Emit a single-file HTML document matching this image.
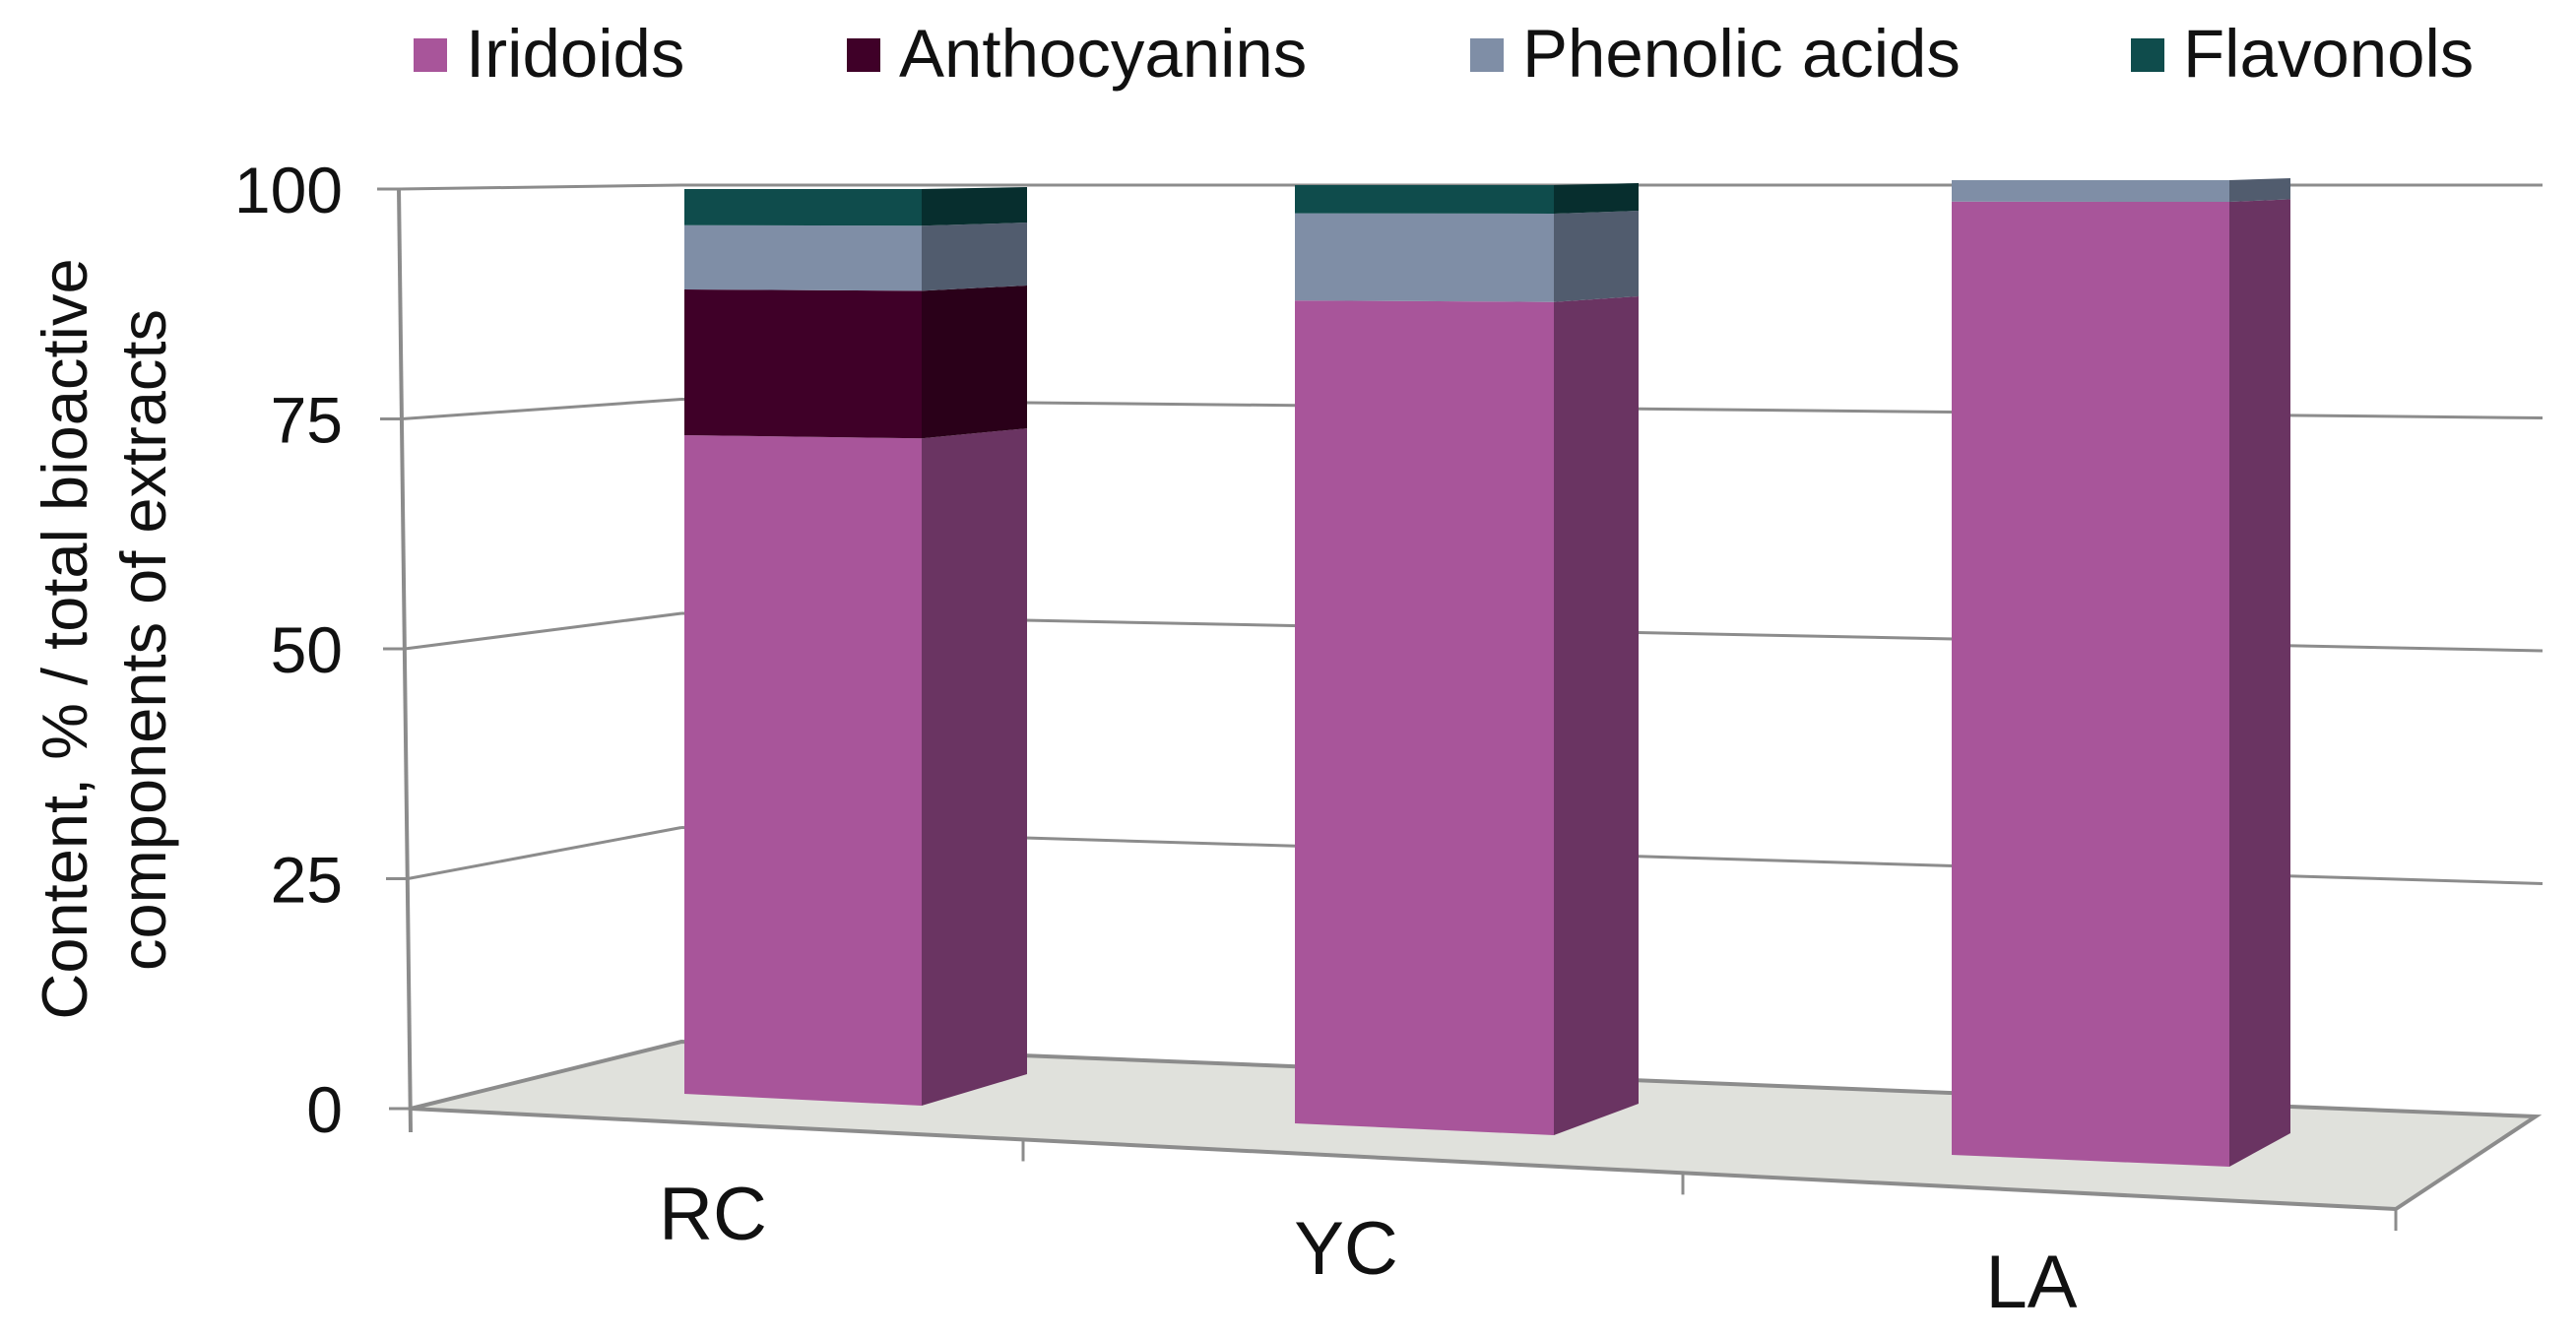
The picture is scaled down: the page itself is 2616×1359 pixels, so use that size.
<!DOCTYPE html>
<html><head><meta charset="utf-8"><style>
html,body{margin:0;padding:0;background:#fff;}
svg{display:block;font-family:"Liberation Sans",Arial,sans-serif;}
</style></head><body>
<svg id="chart" width="2616" height="1359" viewBox="0 0 2616 1359" xmlns="http://www.w3.org/2000/svg">
<g id="legend"></g>
<g id="walls"></g>
<g id="bars"></g>
<g id="axes"></g>
<g font-size="65" fill="#111">
<text transform="translate(88,649) rotate(-90)" text-anchor="middle">Content, % / total bioactive</text>
<text transform="translate(168,650) rotate(-90)" text-anchor="middle">components  of extracts</text>
</g>
</svg>
<script>
const categories = ["RC", "YC", "LA"];
const seriesNames = ["Iridoids", "Anthocyanins", "Phenolic acids", "Flavonols"];
const iridoids = [72.8, 87.7, 97.8];
const anthocyanins = [16.1, 0, 0];
const phenolicAcids = [7.1, 9.3, 2.2];
const flavonols = [4.0, 3.0, 0];
const yTicks = [0, 25, 50, 75, 100];

const series = [iridoids, anthocyanins, phenolicAcids, flavonols];
const frontColors = ["#a8559a", "#3f0028", "#7f8ea6", "#0f4c4c"];
const sideColors = ["#6a3462", "#2a0019", "#515c6e", "#072e2e"];
// perspective layout per bar slot (pixel geometry, not data)
const slots = [
  {xL:695, xR:936, xS:1043, bL:1111, bR:1123, bS:1091, top:192, lx:724, ly:1259},
  {xL:1315, xR:1578, xS:1664, bL:1141, bR:1153, bS:1121, top:188, lx:1367, ly:1294},
  {xL:1982, xR:2264, xS:2326, bL:1173, bR:1185, bS:1151, top:183, lx:2063, ly:1328}
];
const NS = "http://www.w3.org/2000/svg";
function mk(tag, attrs, parent){
  const e = document.createElementNS(NS, tag);
  for (const k in attrs) e.setAttribute(k, attrs[k]);
  parent.appendChild(e); return e;
}
function yAt(b, y0, v){ return y0 - v/100*(y0 - b); }

// legend
const legend = document.getElementById('legend');
const legX = [420, 860, 1493, 2164];
seriesNames.forEach((n,i)=>{
  const g = mk('g', {}, legend);
  
  
  const r = mk('rect', {x:legX[i], y:39, width:34, height:34, fill:frontColors[i]}, g);
  
  
  const t = mk('text', {x:legX[i]+53, y:78, 'font-size':69, fill:'#111'}, g);
  
  
  t.textContent = n;
});

// walls & gridlines
const walls = document.getElementById('walls');
const grid = '#8c8c8c';
const floor = mk('polygon', {points:'417,1126 2433,1228 2575,1134 692,1058', fill:'#e0e1dc', stroke:grid, 'stroke-width':4}, walls);


function frontX(v){ return 417 - 12*v/100; }
function frontY(v){ return 1126 - v*9.34; }
function backLY(v){ return 1058 - v*8.7; }
function backRY(v){ return 1134 - v*9.46; }
yTicks.forEach(v=>{
  const l1 = mk('line', {x1:frontX(v), y1:frontY(v), x2:692, y2:backLY(v), stroke:grid, 'stroke-width':3}, walls);
  
  
  if (v > 0) {
    const l2 = mk('line', {x1:692, y1:backLY(v), x2:2582, y2:backRY(v), stroke:grid, 'stroke-width':3}, walls);
    
    
  }
});

// bars
const barsG = document.getElementById('bars');
categories.forEach((c,ci)=>{
  const s = slots[ci];
  const g = mk('g', {}, barsG);
  
  
  let cum = 0;
  series.forEach((arr,si)=>{
    const v = arr[ci];
    if (v <= 0) return;
    const a = cum, b = cum + v; cum = b;
    const y1L = yAt(s.top, s.bL, a), y2L = yAt(s.top, s.bL, b);
    const y1R = yAt(s.top, s.bR, a), y2R = yAt(s.top, s.bR, b);
    const y1S = yAt(s.top-2, s.bS, a), y2S = yAt(s.top-2, s.bS, b);
    const f = mk('polygon', {points:`${s.xL},${y1L} ${s.xR},${y1R} ${s.xR},${y2R} ${s.xL},${y2L}`, fill:frontColors[si]}, g);
    
    
    const sd = mk('polygon', {points:`${s.xR},${y1R} ${s.xS},${y1S} ${s.xS},${y2S} ${s.xR},${y2R}`, fill:sideColors[si]}, g);
    
    
  });
  const t = mk('text', {x:s.lx, y:s.ly, 'font-size':76, 'text-anchor':'middle', fill:'#111'}, g);
  
  
  t.textContent = c;
});

// axes
const axes = document.getElementById('axes');
const ax = mk('line', {x1:405, y1:191, x2:417, y2:1150, stroke:grid, 'stroke-width':4}, axes);


yTicks.forEach(v=>{
  const tk = mk('line', {x1:frontX(v)-22, y1:frontY(v), x2:frontX(v), y2:frontY(v), stroke:grid, 'stroke-width':3}, axes);
  
  
  const t = mk('text', {x:348, y:frontY(v)+24, 'font-size':66, 'text-anchor':'end', fill:'#111'}, axes);
  
  
  t.textContent = v;
});
[1039, 1709, 2433].forEach(x=>{
  const y = 1126 + (x-417)*(102/2016);
  const tk = mk('line', {x1:x, y1:y, x2:x, y2:y+22, stroke:grid, 'stroke-width':3}, axes);
  
  
});
</script>
</body></html>
